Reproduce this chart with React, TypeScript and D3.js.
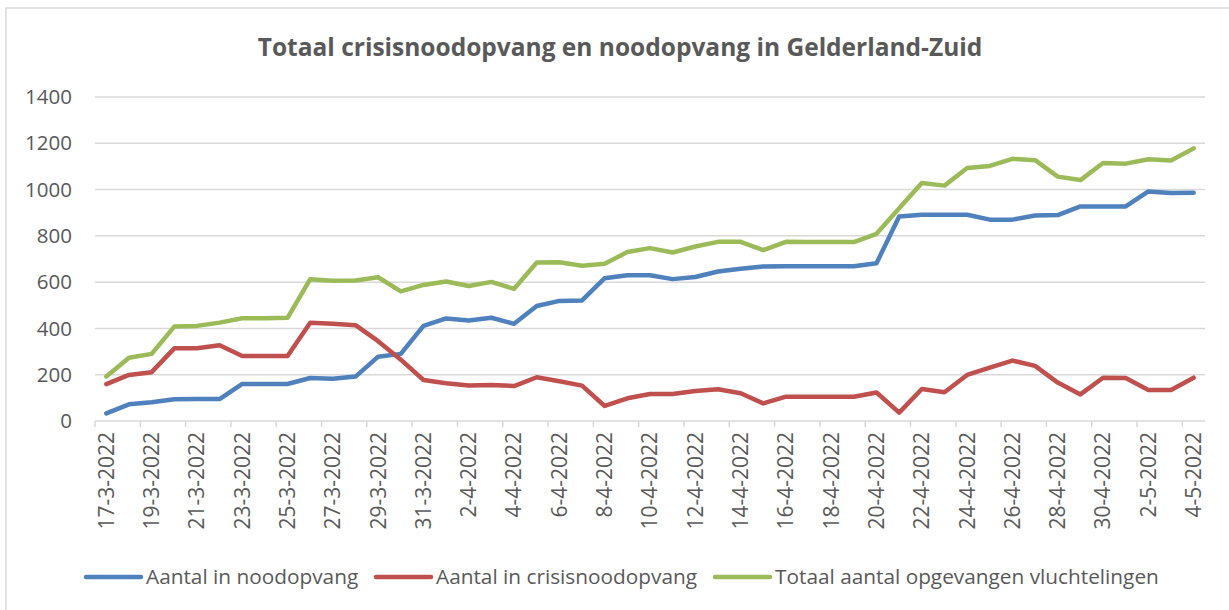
import React, { useEffect, useRef } from 'react';
import * as d3 from 'd3';

const dates = [
  '17-3-2022', '18-3-2022', '19-3-2022', '20-3-2022', '21-3-2022', '22-3-2022', '23-3-2022',
  '24-3-2022', '25-3-2022', '26-3-2022', '27-3-2022', '28-3-2022', '29-3-2022', '30-3-2022',
  '31-3-2022', '1-4-2022', '2-4-2022', '3-4-2022', '4-4-2022', '5-4-2022', '6-4-2022',
  '7-4-2022', '8-4-2022', '9-4-2022', '10-4-2022', '11-4-2022', '12-4-2022', '13-4-2022',
  '14-4-2022', '15-4-2022', '16-4-2022', '17-4-2022', '18-4-2022', '19-4-2022', '20-4-2022',
  '21-4-2022', '22-4-2022', '23-4-2022', '24-4-2022', '25-4-2022', '26-4-2022', '27-4-2022',
  '28-4-2022', '29-4-2022', '30-4-2022', '1-5-2022', '2-5-2022', '3-5-2022', '4-5-2022',
];

const noodopvang = [
  33, 72, 81, 94, 95, 95, 160, 160, 160, 186, 183, 192, 278, 290, 411, 443, 434,
  446, 420, 497, 519, 521, 617, 630, 630, 613, 622, 646, 658, 668, 669, 669,
  669, 669, 682, 884, 891, 891, 891, 870, 870, 888, 890, 927, 927, 927, 992, 985, 986,
];

const crisisnoodopvang = [
  159, 199, 211, 314, 314, 327, 281, 281, 281, 425, 420, 414, 345, 265, 177, 163, 153,
  156, 151, 189, 172, 153, 65, 98, 117, 117, 130, 137, 120, 76, 105, 105,
  105, 105, 123, 36, 138, 124, 199, 231, 261, 238, 166, 115, 187, 186, 134, 134, 187,
];

const totaal = [
  192, 273, 290, 408, 411, 425, 444, 444, 446, 613, 606, 607, 621, 560, 588, 603, 583,
  601, 571, 685, 686, 671, 679, 730, 747, 728, 754, 774, 774, 738, 774, 773,
  773, 773, 809, 919, 1028, 1017, 1093, 1102, 1133, 1127, 1056, 1041, 1115, 1112, 1131, 1126, 1178,
];

const yTicks = [0, 200, 400, 600, 800, 1000, 1200, 1400];

const series = [
  { name: 'Aantal in noodopvang', values: noodopvang, color: '#4F81BD' },
  { name: 'Aantal in crisisnoodopvang', values: crisisnoodopvang, color: '#C0504D' },
  { name: 'Totaal aantal opgevangen vluchtelingen', values: totaal, color: '#9BBB59' },
];

const W = 1229;
const H = 610;
const FONT = '"Open Sans", "Noto Sans", sans-serif';

const App = () => {
  const ref = useRef<SVGSVGElement>(null);

  useEffect(() => {
    const svg = d3.select(ref.current);
    svg.selectAll('*').remove();

    const left = 95, right = 1205, top = 97, bottom = 421;

    // outer frame
    svg.append('rect')
      .attr('x', 6).attr('y', 8)
      .attr('width', W + 20).attr('height', H + 20)
      .attr('fill', '#fff')
      .attr('stroke', '#d9d9d9')
      .attr('stroke-width', 1.5);

    svg.append('text')
      .attr('x', 620).attr('y', 56)
      .attr('text-anchor', 'middle')
      .style('font-family', FONT)
      .style('font-size', '24.5px')
      .style('font-weight', 'bold')
      .style('fill', '#595959')
      .text('Totaal crisisnoodopvang en noodopvang in Gelderland-Zuid');

    const x = d3.scaleBand().domain(dates).range([left, right]);
    const y = d3.scaleLinear().domain([0, 1400]).range([bottom, top]);

    // gridlines
    svg.append('g')
      .selectAll('line')
      .data(yTicks)
      .enter().append('line')
      .attr('x1', left).attr('x2', right)
      .attr('y1', d => y(d)).attr('y2', d => y(d))
      .attr('stroke', '#d9d9d9')
      .attr('stroke-width', 1.5);

    // y labels
    svg.append('g')
      .selectAll('text')
      .data(yTicks)
      .enter().append('text')
      .attr('x', 72)
      .attr('y', d => y(d))
      .attr('dy', '0.35em')
      .attr('text-anchor', 'end')
      .style('font-family', FONT)
      .style('font-size', '20.5px')
      .style('fill', '#595959')
      .text(d => d);

    // x tick marks every 2 categories
    const tickIdx = d3.range(0, dates.length + 1, 2);
    svg.append('g')
      .selectAll('line')
      .data(tickIdx)
      .enter().append('line')
      .attr('x1', i => left + i * x.step())
      .attr('x2', i => left + i * x.step())
      .attr('y1', bottom).attr('y2', bottom + 6)
      .attr('stroke', '#d9d9d9')
      .attr('stroke-width', 1.5);

    // x labels
    svg.append('g')
      .selectAll('text')
      .data(dates.filter((_, i) => i % 2 === 0))
      .enter().append('text')
      .attr('transform', d => `translate(${x(d)! + x.bandwidth() / 2}, 432) rotate(-90)`)
      .attr('dy', '0.35em')
      .attr('text-anchor', 'end')
      .style('font-family', FONT)
      .style('font-size', '21px')
      .style('fill', '#595959')
      .text(d => d);

    const line = d3.line<number>()
      .x((_, i) => x(dates[i])! + x.bandwidth() / 2)
      .y(d => y(d));

    series.forEach(s => {
      svg.append('path')
        .datum(s.values)
        .attr('d', line)
        .attr('fill', 'none')
        .attr('stroke', s.color)
        .attr('stroke-width', 4.5)
        .attr('stroke-linejoin', 'round')
        .attr('stroke-linecap', 'round');
    });

    // legend
    const legendX = [86, 376, 715];
    series.forEach((s, i) => {
      const g = svg.append('g').attr('transform', `translate(${legendX[i]}, 577)`);
      g.append('line')
        .attr('x1', 0).attr('x2', 55)
        .attr('stroke', s.color)
        .attr('stroke-width', 4.5)
        .attr('stroke-linecap', 'round');
      g.append('text')
        .attr('x', 60)
        .attr('dy', '0.35em')
        .style('font-family', FONT)
        .style('font-size', '20.8px')
        .style('fill', '#595959')
        .text(s.name);
    });
  }, []);

  return (
    <svg
      ref={ref}
      width={W}
      height={H}
      style={{ position: 'absolute', left: 0, top: 0, display: 'block' }}
    />
  );
};

export default App;
